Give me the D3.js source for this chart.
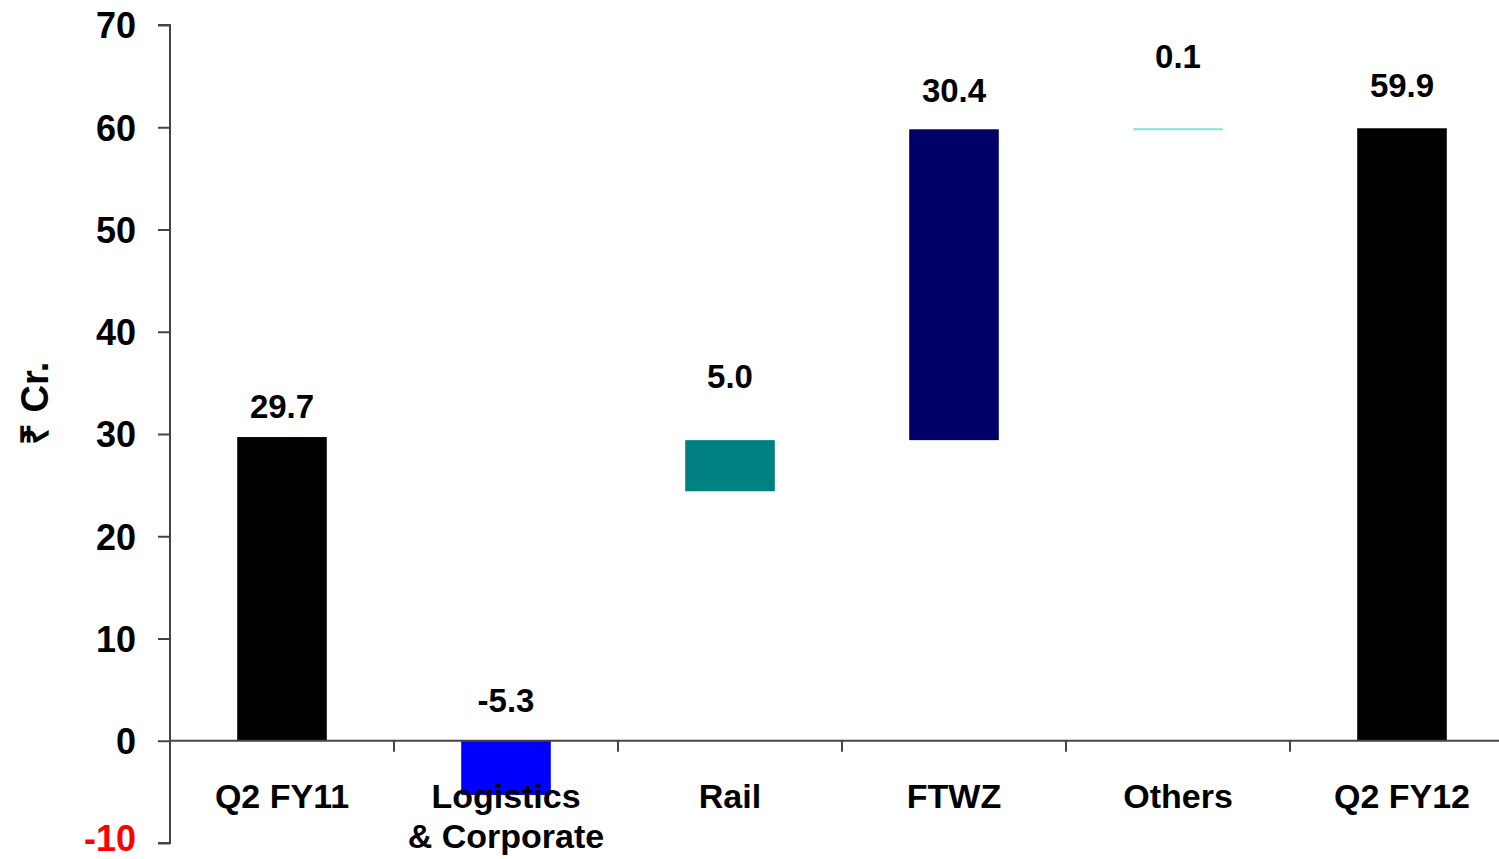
<!DOCTYPE html>
<html>
<head>
<meta charset="utf-8">
<script src="https://cdn.jsdelivr.net/npm/d3@7"></script>
<style>
  body { margin: 0; background: #fff; }
  text { font-family: "Liberation Sans", Arial, sans-serif; font-weight: bold; }
</style>
</head>
<body>
<div id="chart"></div>
<script>
// waterfall data
const categories = ['Q2 FY11', 'Logistics\n& Corporate', 'Rail', 'FTWZ', 'Others', 'Q2 FY12'];
const barStart = [0, 0, 24.4, 29.4, 59.8, 0];
const barEnd = [29.7, -5.3, 29.4, 59.8, 59.9, 59.9];
const valueLabels = ['29.7', '-5.3', '5.0', '30.4', '0.1', '59.9'];
const barColors = ['#000000', '#0000ff', '#008080', '#000066', '#7fe6d4', '#000000'];
const yTicks = [-10, 0, 10, 20, 30, 40, 50, 60, 70];

// label gap above each bar (px), as placed on the slide
const labelGap = [19, 29, 52, 27, 60, 31];

const width = 1499;
const height = 859;
const margin = { top: 25, right: 0, bottom: 16, left: 170 };
const step = 224;

const svg = d3.select('#chart')
    .append('svg')
    .attr('width', width)
    .attr('height', height);

const x = d3.scaleBand()
    .domain(categories)
    .range([margin.left, margin.left + step * categories.length])
    .padding(0);

const y = d3.scaleLinear()
    .domain([-10, 70])
    .range([height - margin.bottom, margin.top]);

const barW = x.bandwidth() * 0.4;

// bars
svg.append('g')
    .selectAll('rect')
    .data(categories)
    .join('rect')
    .attr('x', (d) => x(d) + (x.bandwidth() - barW) / 2)
    .attr('y', (d, i) => y(Math.max(barStart[i], barEnd[i])))
    .attr('width', barW)
    .attr('height', (d, i) => Math.max(2, Math.abs(y(barStart[i]) - y(barEnd[i]))))
    .attr('fill', (d, i) => barColors[i]);

// y axis
const yAxis = svg.append('g')
    .attr('transform', `translate(${margin.left},0)`)
    .call(d3.axisLeft(y).tickValues(yTicks).tickSize(12).tickPadding(22)
        .tickFormat((d) => String(d)));
yAxis.selectAll('path, line').attr('stroke', '#444').attr('stroke-width', 2);
yAxis.select('.domain').attr('d', `M-12,${y(70)}H0V${y(-10)}H-12`);
yAxis.selectAll('text')
    .style('font-size', '36px')
    .attr('dy', (d) => (d < 0 ? '0.2em' : '0.36em'))
    .attr('fill', (d) => (d < 0 ? '#ff0000' : '#000'));

// x axis along zero
const xAxis = svg.append('g')
    .attr('transform', `translate(0,${y(0)})`);
xAxis.append('line')
    .attr('x1', margin.left)
    .attr('x2', width)
    .attr('stroke', '#444')
    .attr('stroke-width', 2);
xAxis.selectAll('.tick')
    .data(categories.slice(1))
    .join('line')
    .attr('class', 'tick')
    .attr('x1', (d) => x(d))
    .attr('x2', (d) => x(d))
    .attr('y1', 0)
    .attr('y2', 11)
    .attr('stroke', '#444')
    .attr('stroke-width', 2);

// category labels
svg.append('g')
    .selectAll('text')
    .data(categories)
    .join('text')
    .attr('text-anchor', 'middle')
    .style('font-size', '34px')
    .each(function (d) {
        const t = d3.select(this);
        d.split('\n').forEach((line, k) => {
            t.append('tspan')
                .attr('x', x(d) + x.bandwidth() / 2)
                .attr('y', y(0) + 67 + k * 40)
                .text(line);
        });
    });

// value labels
svg.append('g')
    .selectAll('text')
    .data(categories)
    .join('text')
    .attr('text-anchor', 'middle')
    .style('font-size', '33px')
    .attr('x', (d) => x(d) + x.bandwidth() / 2)
    .attr('y', (d, i) => y(Math.max(0, barStart[i], barEnd[i])) - labelGap[i])
    .text((d, i) => valueLabels[i]);

// y axis title
svg.append('text')
    .attr('transform', `translate(48,${y(33)}) rotate(-90)`)
    .attr('text-anchor', 'middle')
    .style('font-size', '38px')
    .text('₹ Cr.');
</script>
</body>
</html>
